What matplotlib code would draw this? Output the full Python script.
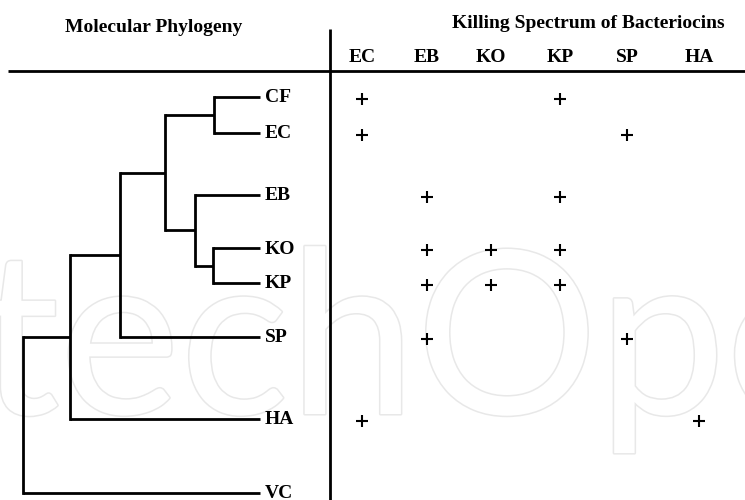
import matplotlib
matplotlib.use('Agg')
import matplotlib.pyplot as plt
import matplotlib.patheffects as pe

# dati: foglie dell'albero, colonne dello spettro
foglie = ['CF', 'EC', 'EB', 'KO', 'KP', 'SP', 'HA', 'VC']
colonne = ['EC', 'EB', 'KO', 'KP', 'SP', 'HA']
# 1 = la batteriocina uccide il ceppo della colonna
spettro = [
    [1, 0, 0, 1, 0, 0],   # CF
    [1, 0, 0, 0, 1, 0],   # EC
    [0, 1, 0, 1, 0, 0],   # EB
    [0, 1, 1, 1, 0, 0],   # KO
    [0, 1, 1, 1, 0, 0],   # KP
    [0, 1, 0, 0, 1, 0],   # SP
    [1, 0, 0, 0, 0, 1],   # HA
    [0, 0, 0, 0, 0, 0],   # VC
]
# nodi interni: (nome, figlio1, figlio2, profondita 0=radice 1=foglie)
nodi = [
    ('n1', 'CF', 'EC', 0.806),
    ('n2', 'KO', 'KP', 0.80),
    ('n3', 'EB', 'n2', 0.726),
    ('n4', 'n1', 'n3', 0.60),
    ('n5', 'n4', 'SP', 0.41),
    ('n6', 'n5', 'HA', 0.198),
    ('rad', 'n6', 'VC', 0.0),
]

# layout in pixel
riga_y = [97, 133, 195, 248, 283, 337, 419, 493]
col_x = [362, 427, 491, 560, 627, 699]
x0, x1 = 23, 260

fig = plt.figure(figsize=(7.45, 5.0), dpi=100)
ax = fig.add_axes([0, 0, 1, 1])
ax.set_xlim(0, 745)
ax.set_ylim(500, 0)
ax.axis('off')

font = dict(family='Liberation Serif', weight='bold', color='black')
lw = 2.0
fs = 14

# filigrana
ax.text(-22, 414, 'techOpen', fontsize=164, family='Lato', color='white',
        ha='left', va='baseline', zorder=0,
        path_effects=[pe.withStroke(linewidth=2.2, foreground='#e8e8e8')])

# titoli
ax.text(154, 27, 'Molecular Phylogeny', fontsize=fs, ha='center', va='center', **font)
ax.text(588, 24, 'Killing Spectrum of Bacteriocins', fontsize=fs, ha='center', va='center', **font)

# linee della tabella
ax.plot([8, 745], [71, 71], color='black', lw=lw, solid_capstyle='butt')
ax.plot([330, 330], [29, 500], color='black', lw=lw, solid_capstyle='butt')

for c, x in zip(colonne, col_x):
    ax.text(x, 58, c, fontsize=fs, ha='center', va='center', **font)

# albero
pos = {}
for f, y in zip(foglie, riga_y):
    pos[f] = (x1, y)
    ax.text(x1 + 5, y + 1, f, fontsize=fs, ha='left', va='center', **font)
for nome, a, b, d in nodi:
    x = x0 + d * (x1 - x0)
    ya, yb = pos[a][1], pos[b][1]
    ax.plot([x, x], [ya, yb], color='black', lw=lw, solid_capstyle='projecting')
    for fig_ in (a, b):
        ax.plot([x, pos[fig_][0]], [pos[fig_][1], pos[fig_][1]], color='black', lw=lw,
                solid_capstyle='butt')
    pos[nome] = (x, (ya + yb) / 2)

# piu dello spettro
for i, riga in enumerate(spettro):
    for j, v in enumerate(riga):
        if v:
            ax.plot(col_x[j], riga_y[i] + 2, marker='+', ms=8, mew=1.5, color='black')

fig.savefig('out.png', dpi=100)
